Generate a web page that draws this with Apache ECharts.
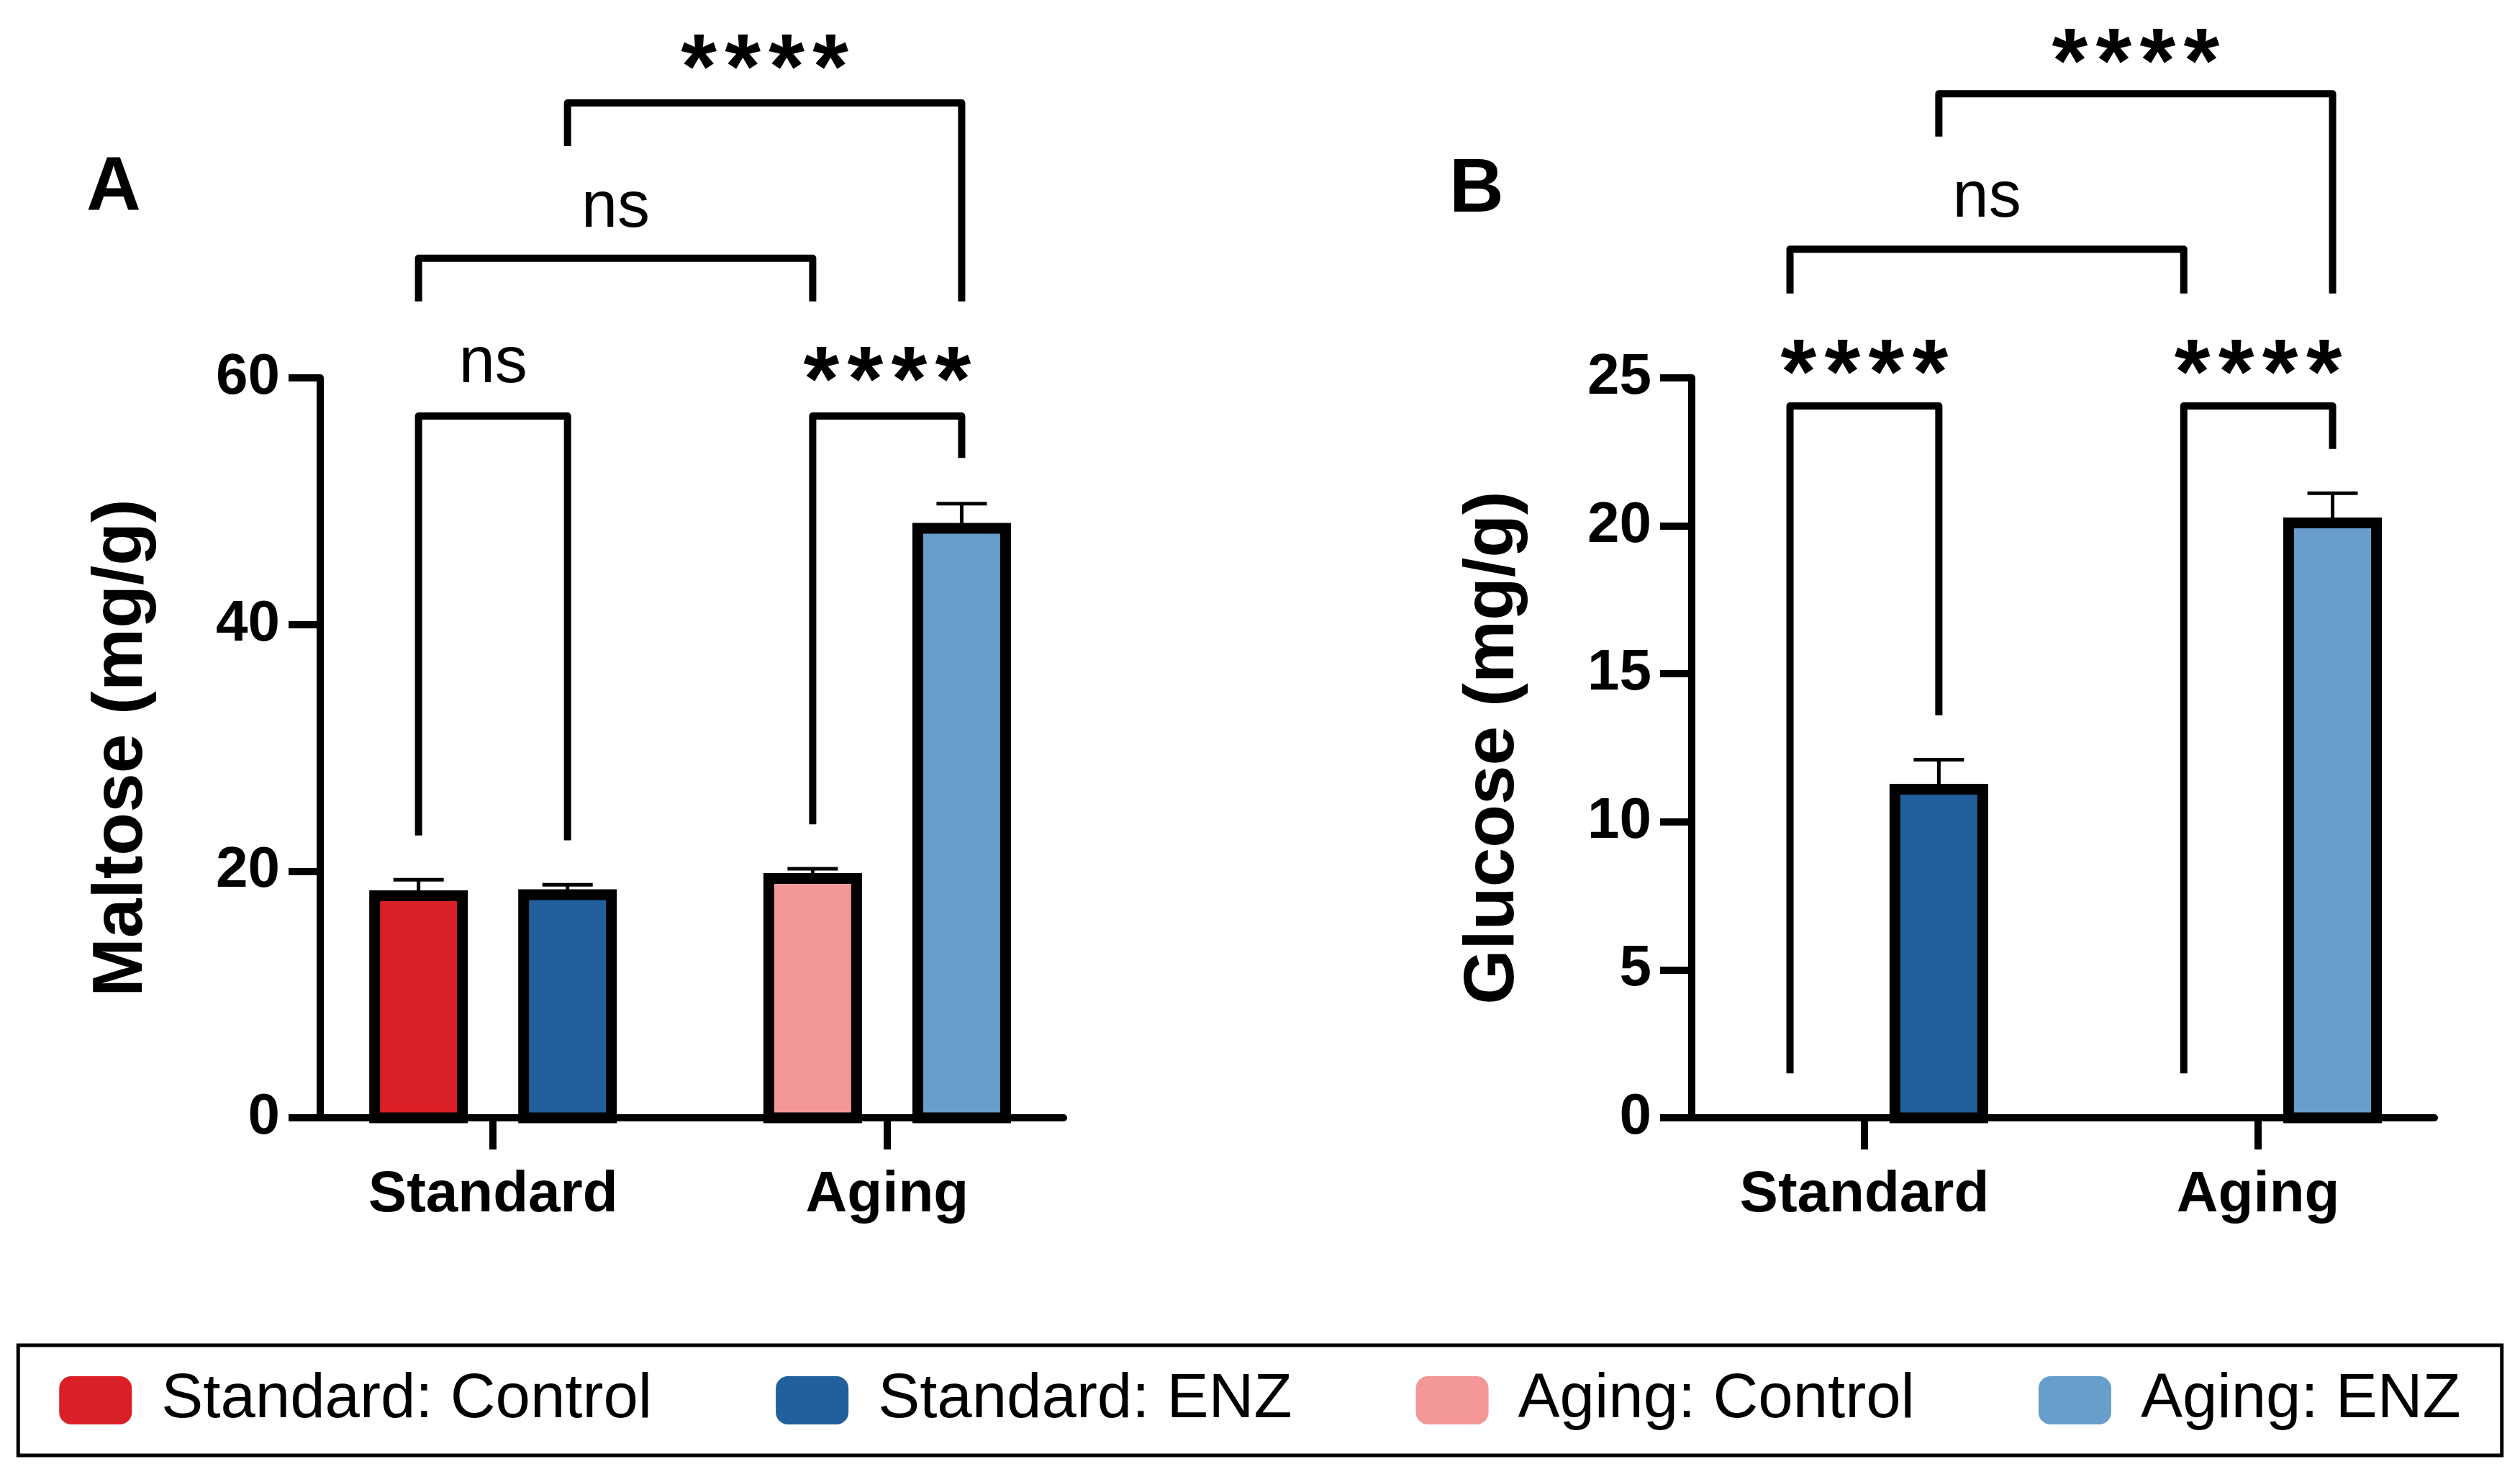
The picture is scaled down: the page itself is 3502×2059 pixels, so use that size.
<!DOCTYPE html>
<html>
<head>
<meta charset="utf-8">
<script src="https://cdn.jsdelivr.net/npm/echarts@6/dist/echarts.min.js"></script>
<style>
  html, body { margin: 0; padding: 0; background: #fff; }
  #main { width: 3502px; height: 2059px; }
</style>
</head>
<body>
<div id="main"></div>
<script>
// categories and groups
var categories = ['Standard', 'Aging'];
var groups = ['Standard: Control', 'Standard: ENZ', 'Aging: Control', 'Aging: ENZ'];
var groupCategory = [0, 0, 1, 1];
var groupIsEnz = [false, true, false, true];
var groupColors = ['#DA1F27', '#21609A', '#F39798', '#679ECC'];

// panel A: maltose (mg/g), mean and SEM
var maltoseMean = [18.0, 18.1, 19.4, 47.8];
var maltoseSem = [1.3, 0.8, 0.8, 2.0];

// panel B: glucose (mg/g), mean and SEM
var glucoseMean = [0, 11.1, 0, 20.1];
var glucoseSem = [0, 1.0, 0, 1.0];

// significance brackets: group pairs, bracket height, leg ends, label
var sigPairs = [[0, 1], [2, 3], [0, 2], [1, 3]];
var maltoseSigTop = [56.9, 56.9, 69.7, 82.3];
var maltoseSigEnds = [[22.9, 22.5], [23.8, 53.5], [66.2, 66.2], [78.8, 66.2]];
var maltoseSigLabel = ['ns', '****', 'ns', '****'];
var maltoseSigLabelY = [61.2, 61.1, 73.8, 86.4];

var glucoseSigTop = [24.05, 24.05, 29.35, 34.6];
var glucoseSigEnds = [[1.5, 13.6], [1.5, 22.6], [27.85, 27.85], [33.15, 27.85]];
var glucoseSigLabel = ['****', '****', 'ns', '****'];
var glucoseSigLabelY = [25.7, 25.7, 31.1, 36.2];

var FONT = '"Liberation Sans", Arial, Helvetica, sans-serif';
var BAR_OFFSET = 0.189;
var BAR_WIDTH = 122;

function xPos(g) {
    return groupCategory[g] + 1 + (groupIsEnz[g] ? BAR_OFFSET : -BAR_OFFSET);
}

function makeXAxis(gridIndex) {
    return {
        type: 'value',
        gridIndex: gridIndex,
        min: 0.5615,
        max: 2.4475,
        axisLine: { show: true, lineStyle: { color: '#000', width: 10 } },
        axisTick: { show: true, customValues: [1, 2], length: 44, lineStyle: { color: '#000', width: 10 } },
        axisLabel: {
            customValues: [1, 2],
            formatter: function (v) { return categories[Math.round(v) - 1]; },
            color: '#000', fontSize: 80, fontWeight: 'bold', fontFamily: FONT, margin: 68
        },
        splitLine: { show: false }
    };
}

function makeYAxis(gridIndex, max, interval, name) {
    return {
        type: 'value',
        gridIndex: gridIndex,
        min: 0,
        max: max,
        interval: interval,
        name: name,
        nameLocation: 'middle',
        nameRotate: 90,
        nameGap: 226,
        nameTextStyle: { color: '#000', fontSize: 98, fontWeight: 'bold', fontFamily: FONT },
        axisLine: { show: true, lineStyle: { color: '#000', width: 10 } },
        axisTick: { show: true, length: 44, lineStyle: { color: '#000', width: 10 } },
        axisLabel: { color: '#000', fontSize: 80, fontWeight: 'bold', fontFamily: FONT, margin: 56 },
        splitLine: { show: false }
    };
}

// one custom series per group so each bar has its own legend entry
function barSeries(gridIndex, mean) {
    var out = [];
    groups.forEach(function (name, g) {
        if (mean[g] <= 0) return;
        out.push({
            type: 'custom',
            name: name,
            xAxisIndex: gridIndex,
            yAxisIndex: gridIndex,
            data: [[xPos(g), mean[g]]],
            itemStyle: { color: groupColors[g] },
            z: 3,
            renderItem: function (params, api) {
                var top = api.coord([api.value(0), api.value(1)]);
                var base = api.coord([api.value(0), 0]);
                return {
                    type: 'rect',
                    shape: { x: top[0] - BAR_WIDTH / 2, y: top[1], width: BAR_WIDTH, height: base[1] - top[1] },
                    style: { fill: groupColors[g], stroke: '#000', lineWidth: 15 }
                };
            }
        });
    });
    return out;
}

function errorSeries(gridIndex, mean, sem) {
    var data = [];
    groups.forEach(function (name, g) {
        if (mean[g] <= 0) return;
        data.push([xPos(g), mean[g], mean[g] + sem[g]]);
    });
    return {
        type: 'custom',
        xAxisIndex: gridIndex,
        yAxisIndex: gridIndex,
        z: 5,
        data: data,
        renderItem: function (params, api) {
            var p0 = api.coord([api.value(0), api.value(1)]);
            var p1 = api.coord([api.value(0), api.value(2)]);
            var style = { stroke: '#000', lineWidth: 5 };
            return {
                type: 'group',
                children: [
                    { type: 'line', shape: { x1: p0[0], y1: p0[1], x2: p1[0], y2: p1[1] }, style: style },
                    { type: 'line', shape: { x1: p1[0] - 35, y1: p1[1], x2: p1[0] + 35, y2: p1[1] }, style: style }
                ]
            };
        }
    };
}

function textEl(str, x, y, size, weight) {
    return {
        type: 'text',
        x: x,
        y: y,
        style: {
            text: str,
            fill: '#000',
            fontSize: size,
            fontWeight: weight,
            fontFamily: FONT,
            align: 'center',
            verticalAlign: 'middle',
            textAlign: 'center',
            textVerticalAlign: 'middle'
        }
    };
}

function sigSeries(gridIndex, tops, ends, labels, labelY) {
    var data = sigPairs.map(function (p, i) {
        return [xPos(p[0]), tops[i], xPos(p[1]), ends[i][0], ends[i][1], labelY[i]];
    });
    return {
        type: 'custom',
        xAxisIndex: gridIndex,
        yAxisIndex: gridIndex,
        z: 6,
        data: data,
        renderItem: function (params, api) {
            var x1 = api.value(0), top = api.value(1), x2 = api.value(2);
            var a = api.coord([x1, api.value(3)]);
            var b = api.coord([x1, top]);
            var c = api.coord([x2, top]);
            var d = api.coord([x2, api.value(4)]);
            var text = labels[params.dataIndex];
            var t = api.coord([(x1 + x2) / 2, api.value(5)]);
            var children = [{
                type: 'polyline',
                shape: { points: [a, b, c, d] },
                style: { stroke: '#000', lineWidth: 10, fill: null, lineJoin: 'round' }
            }];
            if (text.indexOf('*') >= 0) {
                // asterisks drawn one by one so they keep the wider spacing
                var fs = 128, step = 61, n = text.length;
                for (var k = 0; k < n; k++) {
                    children.push(textEl('*', t[0] + (k - (n - 1) / 2) * step, t[1] + 0.22 * fs, fs, 'bold'));
                }
            } else {
                children.push(textEl(text, t[0], t[1] + 2, 90, 'normal'));
            }
            return { type: 'group', children: children };
        }
    };
}

var chart = echarts.init(document.getElementById('main'));

var option = {
    animation: false,
    backgroundColor: '#fff',
    graphic: [
        { type: 'text', x: 158, y: 263, style: { text: 'A', fill: '#000', font: 'bold 105px ' + FONT, align: 'center', verticalAlign: 'middle', textAlign: 'center', textVerticalAlign: 'middle' } },
        { type: 'text', x: 2052, y: 265, style: { text: 'B', fill: '#000', font: 'bold 105px ' + FONT, align: 'center', verticalAlign: 'middle', textAlign: 'center', textVerticalAlign: 'middle' } }
    ],
    legend: {
        data: groups,
        left: 'center',
        top: 1869,
        orient: 'horizontal',
        icon: 'roundRect',
        itemWidth: 101,
        itemHeight: 67,
        itemGap: 172,
        padding: [33, 57],
        borderColor: '#000',
        borderWidth: 5,
        selectedMode: false,
        itemStyle: { borderWidth: 0 },
        textStyle: { color: '#000', fontSize: 87, fontFamily: FONT, padding: [0, 0, 0, 36] }
    },
    grid: [
        { left: 445, top: 525, width: 1033, height: 1028 },
        { left: 2351, top: 525, width: 1032, height: 1028 }
    ],
    xAxis: [makeXAxis(0), makeXAxis(1)],
    yAxis: [
        makeYAxis(0, 60, 20, 'Maltose (mg/g)'),
        makeYAxis(1, 25, 5, 'Glucose (mg/g)')
    ],
    series: [].concat(
        barSeries(0, maltoseMean),
        barSeries(1, glucoseMean),
        [
            errorSeries(0, maltoseMean, maltoseSem),
            errorSeries(1, glucoseMean, glucoseSem),
            sigSeries(0, maltoseSigTop, maltoseSigEnds, maltoseSigLabel, maltoseSigLabelY),
            sigSeries(1, glucoseSigTop, glucoseSigEnds, glucoseSigLabel, glucoseSigLabelY)
        ]
    )
};

chart.setOption(option);
window.addEventListener('resize', function () { chart.resize(); });
</script>
</body>
</html>
